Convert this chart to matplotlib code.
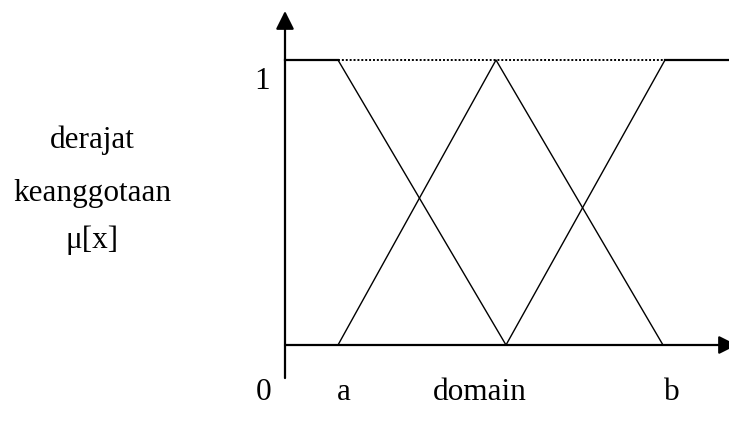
import matplotlib.pyplot as plt

plt.rcParams['font.family'] = ['Liberation Serif', 'DejaVu Serif']

# membership functions (x in domain units, mu in [0, 1])
left_x = [0, 53, 221]
left_mu = [1, 1, 0]
mid_x = [53, 211, 378]
mid_mu = [0, 1, 0]
right_x = [221, 380, 444]
right_mu = [0, 1, 1]
top_x = [53, 380]
top_mu = [1, 1]

tick_pos = [-21, 59, 195, 387]
tick_labels = ['0', 'a', 'domain', 'b']
ylabel_lines = ['derajat', 'keanggotaan', 'μ[x]']
ylabel_mu = [0.72, 0.533, 0.368]

fig = plt.figure(figsize=(7.29, 4.26), dpi=100)
ax = fig.add_axes([0, 0, 1, 1])
ax.set_xlim(-285, 444)
ax.set_ylim(-81 / 285, 345 / 285)
ax.axis('off')

# axes with arrows
arrow = dict(arrowstyle='-|>,head_length=1.1,head_width=0.55', lw=1.6, color='black',
             shrinkA=0, shrinkB=0)
ax.annotate('', xy=(452, 0), xytext=(0, 0), arrowprops=arrow, annotation_clip=False)
ax.annotate('', xy=(0, 1.172), xytext=(0, -0.116), arrowprops=arrow, annotation_clip=False)

ax.plot(left_x, left_mu, color='black', lw=1.0)
ax.plot(mid_x, mid_mu, color='black', lw=1.0)
ax.plot(right_x, right_mu, color='black', lw=1.0)
ax.plot(left_x[:2], left_mu[:2], color='black', lw=1.6)
ax.plot(right_x[1:], right_mu[1:], color='black', lw=1.6)
ax.plot(top_x, top_mu, color='black', lw=1.4, linestyle=(0, (1, 1)))

ax.text(-23, 0.923, '1', fontsize=22.5, ha='center', va='center')
for x, lab in zip(tick_pos, tick_labels):
    ax.text(x, -0.165, lab, fontsize=22.5, ha='center', va='center')
for m, lab in zip(ylabel_mu, ylabel_lines):
    ax.text(-193, m, lab, fontsize=22.5, ha='center', va='center')

fig.savefig('out.png', dpi=100)
